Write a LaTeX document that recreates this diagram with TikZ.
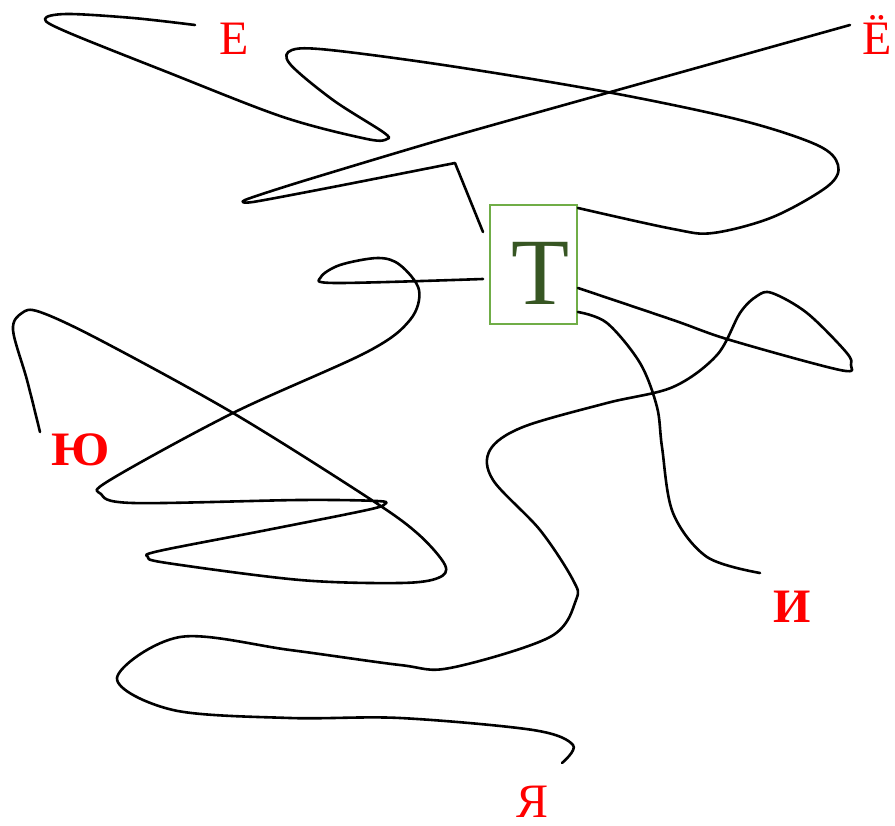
\documentclass[tikz,border=0pt]{standalone}
\usepackage{fontspec}
\setmainfont{Liberation Serif}
\definecolor{boxgreen}{HTML}{70AD47}
\definecolor{tgreen}{HTML}{375623}
\tikzset{
  letter/.style={text=red, inner sep=0pt, anchor=base, font=\fontsize{48}{48}\selectfont},
  boldletter/.style={letter, font=\fontsize{48}{48}\selectfont\bfseries},
  wire/.style={line width=2.6pt, line cap=round, line join=round},
}
\begin{document}
\begin{tikzpicture}[x=1pt,y=-1pt]
    \useasboundingbox (0,0) rectangle (895,826);
    % letters
    \node[letter] (E) at (234,55) {Е};
    \node[letter] (Yo) at (877,55) {Ё};
    \node[boldletter, xscale=1.08] (Yu) at (81,465) {Ю};
    \node[boldletter] (I) at (792,622) {И};
    \node[letter] (Ya) at (533,817) {Я};
    \node[draw=boxgreen, line width=2.5pt, minimum width=87pt, minimum height=119pt] (T) at (533.5,264.5) {};
    \node[inner sep=0pt, anchor=base, text=tgreen, font=\fontsize{95}{95}\selectfont] (Tletter) at (541,305) {Т};
    % ends of the lines
    \coordinate (e-start) at (195,25);
    \coordinate (yo-start) at (850,25);
    \coordinate (yu-start) at (40,432);
    \coordinate (i-end) at (760,573);
    \coordinate (ya-end) at (562,763);
    \coordinate (t-top) at (578,208);
    \coordinate (t-left1) at (483,232);
    \coordinate (t-left2) at (483,279);
    \coordinate (t-right1) at (578,288);
    \coordinate (t-right2) at (578,312);
    % line from E
    \draw[wire] plot[smooth, tension=0.55] coordinates {(e-start) (133,18) (67,14) (45,19) (67,32) (167,72) (283,117) (367,139) (387,139) (383,132) (333,100) (290,64) (292,50) (330,50) (450,66) (607,92) (740,120) (817,145) (838,165) (828,186) (773,217) (713,233) (673,229) (t-top)};
    % line from Yo
    \draw[wire] plot[smooth, tension=0.4] coordinates {(yo-start) (607,93) (440,140) (300,182) (245,200) (253,202) (333,187) (455,163)} -- (t-left1);
    % line from Yu
    \draw[wire] plot[smooth, tension=0.55] coordinates {(yu-start) (27,380) (13,330) (22,313) (40,312) (100,340) (233,413) (367,497) (417,533) (445,565) (438,578) (400,583) (300,580) (167,563) (148,557) (159,551) (267,530) (367,510) (385,504) (377,501) (300,500) (133,503) (101,494) (110,480) (233,413) (367,352) (410,320) (419,290) (400,265) (378,258) (340,265) (321,277) (335,283) (t-left2)};
    % line to Ya
    \draw[wire] plot[smooth, tension=0.55] coordinates {(t-right1) (673,320) (730,340) (840,370) (851,365) (846,352) (807,313) (772,293) (757,296) (740,313) (717,355) (673,387) (607,403) (523,427) (490,450) (493,480) (540,530) (573,580) (576,600) (550,637) (450,668) (400,665) (290,650) (180,637) (117,678) (173,710) (290,718) (400,718) (533,730) (573,745) (ya-end)};
    % line to I
    \draw[wire] plot[smooth, tension=0.55] coordinates {(t-right2) (607,323) (640,363) (657,407) (662,447) (673,513) (707,557) (i-end)};
\end{tikzpicture}
\end{document}
